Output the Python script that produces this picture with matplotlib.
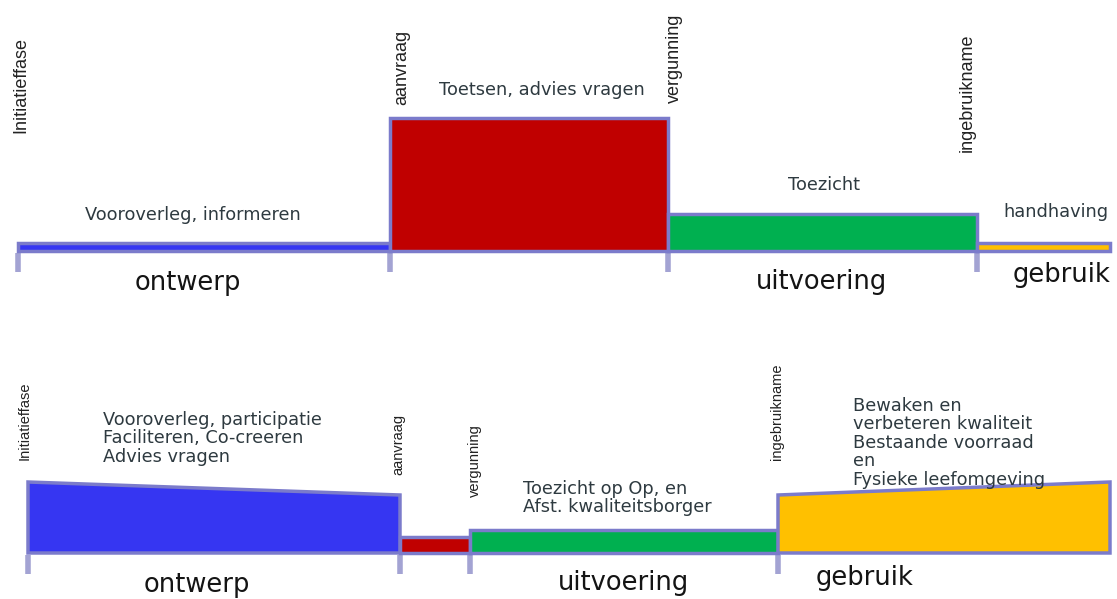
import matplotlib.pyplot as plt

# top chart: traditional process
top_bounds = [18, 390, 668, 977, 1110]
top_h_left = [8, 133, 37, 8]
top_h_right = [8, 133, 37, 8]
top_colors = ["#3636F2", "#C00000", "#00B050", "#FFC000"]
top_texts = ["Vooroverleg, informeren", "Toetsen, advies vragen", "Toezicht", "handhaving"]
top_text_x = [193, 542, 824, 1056]
top_text_y = [36, 161, 66, 39]
top_marks = ["Initiatieffase", "aanvraag", "vergunning", "ingebruikname"]
top_mark_x = [21, 402, 674, 967]
top_mark_y = [118, 146, 148, 99]
top_phases = ["ontwerp", "uitvoering", "gebruik"]
top_phase_x = [188, 822, 1062]
top_phase_y = [-32, -31, -24]

# bottom chart: new process
bot_bounds = [28, 400, 470, 778, 1110]
bot_h_left = [71, 16, 23, 58]
bot_h_right = [58, 16, 23, 71]
bot_colors = ["#3636F2", "#C00000", "#00B050", "#FFC000"]
bot_texts = ["Vooroverleg, participatie\nFaciliteren, Co-creeren\nAdvies vragen",
             "Toezicht op Op, en\nAfst. kwaliteitsborger",
             "Bewaken en\nverbeteren kwaliteit\nBestaande voorraad\nen\nFysieke leefomgeving"]
bot_text_x = [103, 523, 853]
bot_text_y = [142, 73, 156]
bot_marks = ["Initiatieffase", "aanvraag", "vergunning", "ingebruikname"]
bot_mark_x = [25, 398, 475, 777]
bot_mark_y = [93, 78, 56, 93]
bot_phases = ["ontwerp", "uitvoering", "gebruik"]
bot_phase_x = [197, 624, 865]
bot_phase_y = [-32, -30, -25]

edge = "#7B7BCB"
tick_col = "#A3A3D3"
txt_col = "#2E3A40"

fig = plt.figure(figsize=(11.17, 5.99), dpi=100)
ax_top = fig.add_axes([0, 299 / 599, 1, 300 / 599])
ax_bot = fig.add_axes([0, 0, 1, 299 / 599])
ax_top.set_ylim(-49, 251)
ax_bot.set_ylim(-46, 253)


def draw_panel(ax, bounds, hl, hr, colors, marks, mark_x, mark_y, mark_size, phases, phase_x, phase_y):
    ax.set_xlim(0, 1117)
    ax.axis("off")
    for i in range(len(colors)):
        x0, x1 = bounds[i], bounds[i + 1]
        ax.fill([x0, x0, x1, x1], [0, hl[i], hr[i], 0], facecolor=colors[i],
                edgecolor=edge, linewidth=2.5, joinstyle="miter", zorder=2)
    # little ticks under the time line
    for x in bounds[:-1]:
        ax.plot([x, x], [-2, -21], color=tick_col, linewidth=4, solid_capstyle="butt", zorder=1)
    for s, x, y in zip(marks, mark_x, mark_y):
        ax.text(x, y, s, rotation=90, ha="center", va="bottom", fontsize=mark_size,
                family="Liberation Sans", color="#222222")
    for s, x, y in zip(phases, phase_x, phase_y):
        ax.text(x, y, s, ha="center", va="center", fontsize=18.5, color="#141414")


draw_panel(ax_top, top_bounds, top_h_left, top_h_right, top_colors,
           top_marks, top_mark_x, top_mark_y, 13, top_phases, top_phase_x, top_phase_y)
draw_panel(ax_bot, bot_bounds, bot_h_left, bot_h_right, bot_colors,
           bot_marks, bot_mark_x, bot_mark_y, 10.5, bot_phases, bot_phase_x, bot_phase_y)

for s, x, y in zip(top_texts, top_text_x, top_text_y):
    ax_top.text(x, y, s, ha="center", va="center", fontsize=12.8, color=txt_col, zorder=3)

for s, x, y in zip(bot_texts, bot_text_x, bot_text_y):
    ax_bot.text(x, y, s, ha="left", va="top", fontsize=12.8, color=txt_col,
                linespacing=1.03, zorder=3)

fig.savefig("out.png", dpi=100)
